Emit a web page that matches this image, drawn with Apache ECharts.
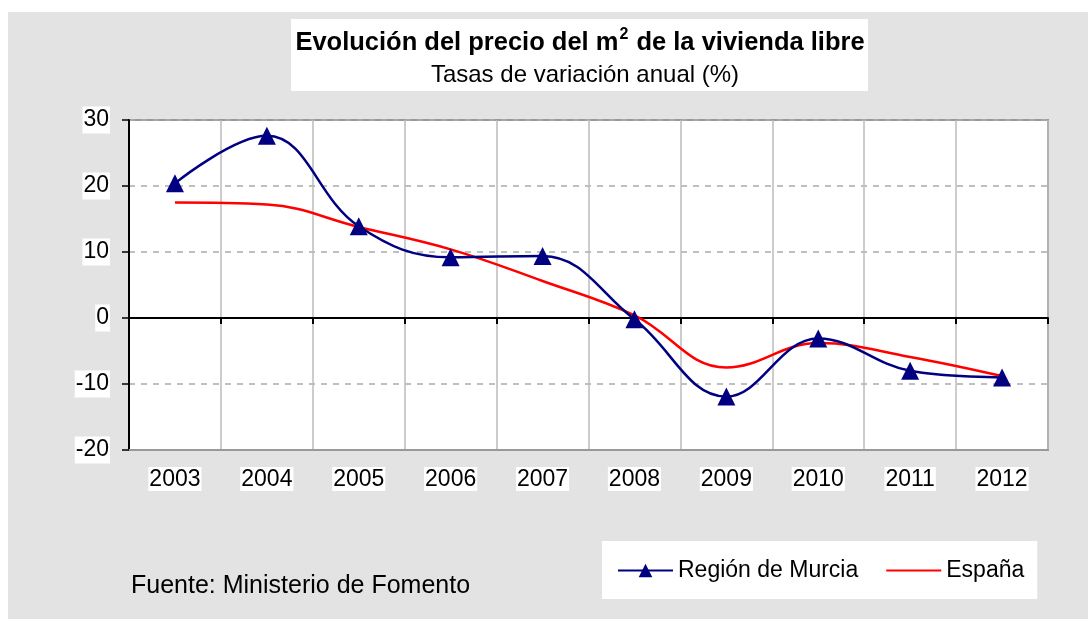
<!DOCTYPE html>
<html>
<head>
<meta charset="utf-8">
<script src="https://cdn.jsdelivr.net/npm/echarts@6/dist/echarts.min.js"></script>
<style>
  html, body { margin: 0; padding: 0; background: #fff; }
  #bg { position: absolute; left: 8px; top: 12px; right: 0; bottom: 0; background: #e3e3e3; }
  #chart { position: absolute; left: 0; top: 0; width: 1088px; height: 619px; }
</style>
</head>
<body>
<div id="bg"></div>
<div id="chart"></div>
<script>
const years = ['2003', '2004', '2005', '2006', '2007', '2008', '2009', '2010', '2011', '2012']
const murcia = [20.4, 27.6, 13.9, 9.2, 9.4, -0.2, -11.9, -3.1, -8.0, -9.0]
const espana = [17.5, 17.2, 13.8, 10.4, 5.6, 0.4, -7.5, -3.8, -5.9, -8.8]
const yMin = -20
const yMax = 30
const yStep = 10

const font = 'Liberation Sans, Arial, sans-serif'
const chart = echarts.init(document.getElementById('chart'))

chart.setOption({
  animation: false,
  textStyle: { fontFamily: font },
  graphic: [
    // caja blanca del titulo
    { type: 'rect', left: 291, top: 19, shape: { width: 577, height: 72 }, style: { fill: '#fff' }, z: -1 }
  ],
  title: [
    {
      text: 'Evolución del precio del m{sup|2} de la vivienda libre',
      left: 575,
      top: 22,
      textAlign: 'center',
      textStyle: {
        fontFamily: font,
        fontSize: 25.5,
        fontWeight: 'bold',
        color: '#000',
        rich: {
          sup: { fontFamily: font, fontSize: 16, fontWeight: 'bold', verticalAlign: 'bottom', padding: [0, 1, 15, 1] }
        }
      }
    },
    {
      text: 'Tasas de variación anual (%)',
      left: 580,
      top: 58,
      textAlign: 'center',
      textStyle: { fontFamily: font, fontSize: 24, fontWeight: 'normal', color: '#000' }
    },
    {
      text: 'Fuente: Ministerio de Fomento',
      left: 126,
      top: 569,
      textStyle: { fontFamily: font, fontSize: 25, fontWeight: 'normal', color: '#000' }
    }
  ],
  legend: {
    left: 602,
    top: 541,
    padding: [18, 13, 17, 15],
    backgroundColor: '#fff',
    itemWidth: 55,
    itemHeight: 17,
    itemGap: 27,
    textStyle: { fontFamily: font, fontSize: 23, color: '#000' },
    data: [
      { name: 'Región de Murcia' },
      { name: 'España', itemStyle: { opacity: 0 } }
    ]
  },
  grid: {
    left: 129,
    right: 40,
    top: 120,
    bottom: 169,
    show: true,
    backgroundColor: '#fff',
    borderColor: '#999',
    borderWidth: 2
  },
  xAxis: [
    {
      type: 'category',
      data: years,
      boundaryGap: true,
      axisLine: { onZero: true, lineStyle: { color: '#000', width: 2 } },
      axisTick: { show: true, length: 6, lineStyle: { color: '#000', width: 2 } },
      axisLabel: { show: false },
      splitLine: { show: false }
    },
    {
      type: 'category',
      data: years,
      position: 'bottom',
      boundaryGap: true,
      axisLine: { onZero: false, lineStyle: { color: '#999', width: 2 } },
      axisTick: { show: false },
      axisLabel: {
        color: '#000',
        fontFamily: font,
        fontSize: 23,
        margin: 17,
        backgroundColor: '#fff',
        padding: [1, 1, 0, 1]
      },
      splitLine: { show: true, lineStyle: { color: '#bbb', width: 1.5 } }
    }
  ],
  yAxis: {
    type: 'value',
    min: yMin,
    max: yMax,
    interval: yStep,
    axisLine: { show: true, lineStyle: { color: '#000', width: 2 } },
    axisTick: { show: true, length: 7, lineStyle: { color: '#000', width: 1.5 } },
    axisLabel: {
      color: '#000',
      fontFamily: font,
      fontSize: 23,
      margin: 19,
      backgroundColor: '#fff',
      padding: [2, 1, 2, 1]
    },
    splitLine: { show: true, lineStyle: { color: '#aaa', type: [6, 6], width: 1.5 } }
  },
  series: [
    {
      name: 'Región de Murcia',
      type: 'line',
      xAxisIndex: 0,
      data: murcia,
      smooth: 0.4,
      symbol: 'triangle',
      symbolSize: 18,
      color: '#000080',
      lineStyle: { width: 2.5, color: '#000080' },
      itemStyle: { color: '#000080' },
      z: 3
    },
    {
      name: 'España',
      type: 'line',
      xAxisIndex: 0,
      data: espana,
      smooth: 0.4,
      symbol: 'none',
      color: '#ff0000',
      lineStyle: { width: 2.5, color: '#ff0000' },
      z: 2
    }
  ]
})
</script>
</body>
</html>
